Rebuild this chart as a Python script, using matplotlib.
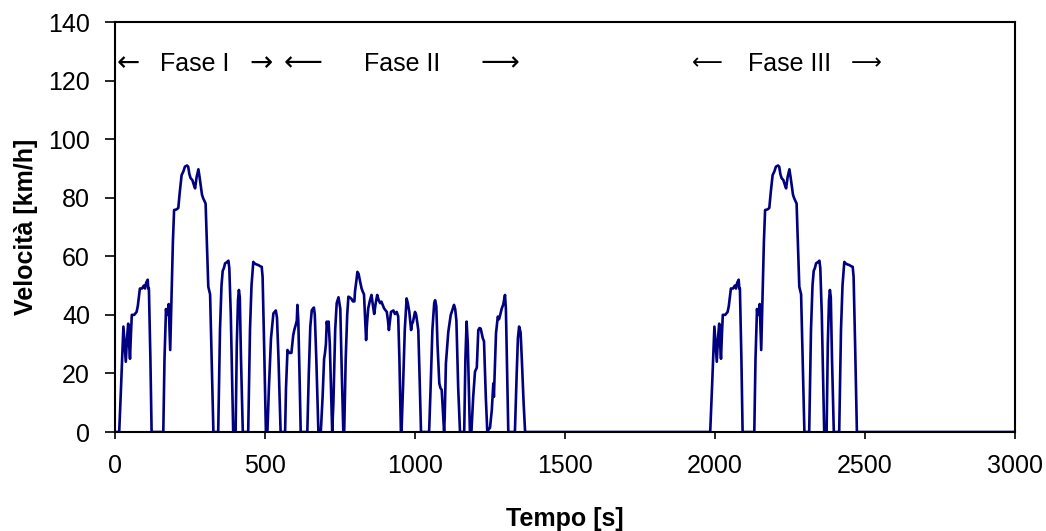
# -*- coding: utf-8 -*-
import matplotlib
matplotlib.use("Agg")
import matplotlib.pyplot as plt

# ---- dati (tempo [s], velocità [km/h]) ----
t_fase1 = [0, 14, 20, 28, 32, 36, 40, 44, 47, 50, 53, 56, 64, 72, 76, 83, 90, 96, 100, 104, 109, 111, 113, 118, 122,
           161, 165, 170, 172, 175, 179, 184, 188, 193, 197, 205, 211, 216, 222, 228, 233, 240, 244, 248, 252, 258,
           264, 267, 272, 278, 282, 286, 290, 294, 302, 306, 311, 317, 322, 328,
           344, 350, 355, 359, 363, 367, 373, 378, 381, 386, 394,
           402, 406, 410, 413, 416, 420, 426,
           444, 450, 455, 461, 466, 472, 478, 484, 489, 492, 497, 503]
v_fase1 = [0, 0, 15, 36, 30, 24, 32, 37, 30, 25, 33, 40, 40, 41, 43, 49, 49, 50, 49, 51, 52, 49, 49, 25, 0,
           0, 25, 42, 40, 40, 43.7, 28, 45, 65, 75.8, 76, 76.5, 82, 87.7, 89, 90.6, 91, 90.6, 88, 86.7, 86,
           84, 83.2, 87, 89.7, 87, 84, 81, 79.8, 78, 65, 49.6, 47, 25, 0,
           0, 35, 50, 55, 56, 57.6, 58, 58.5, 56, 40, 0,
           0, 30, 45, 48.5, 46, 25, 0,
           0, 35, 50, 58.1, 57.5, 57.2, 57, 56.6, 56.4, 53, 30, 0]

t_fase2 = [508, 513, 520, 528, 532, 536, 540, 545, 552,
           567, 570, 575, 581, 588, 594, 598, 602, 606, 608, 611, 615, 619,
           641, 646, 651, 656, 663, 666, 671, 678,
           686, 692, 697, 700, 703, 706, 709, 712, 716, 720, 724,
           728, 734, 739, 745, 751, 756, 761,
           764, 769, 774, 778, 782, 788, 793, 798, 800, 805, 808, 812, 817, 822, 826, 830, 833, 837, 840,
           844, 850, 855, 860, 864, 869, 874, 879, 884, 888, 892, 897, 906, 910, 913, 920, 928, 933, 939,
           944, 948, 953,
           955, 960, 966, 972, 976, 981, 987, 990, 993, 1000, 1004, 1011, 1015, 1020,
           1047, 1052, 1058, 1064, 1067, 1071, 1075, 1081, 1085, 1089, 1093, 1097,
           1099, 1103, 1111, 1115, 1119, 1124, 1130, 1134, 1138, 1144, 1150,
           1164, 1168, 1172, 1176, 1183,
           1188, 1194, 1200, 1206, 1211, 1215, 1219, 1223, 1226, 1230, 1236, 1241, 1246, 1250, 1256, 1261,
           1263, 1270, 1276, 1280, 1284, 1289, 1294, 1300, 1303, 1307, 1311,
           1333, 1339, 1343, 1347, 1352, 1356, 1362, 1367]
v_fase2 = [0, 15, 32, 40.5, 41, 41.5, 39, 25, 0,
           0, 15, 28, 27, 27, 33, 35, 36.4, 38, 43.4, 38, 20, 0,
           0, 20, 36, 41.6, 42.5, 40, 25, 0,
           0, 12, 25, 27, 30, 37.7, 35, 37.7, 30, 15, 0,
           10, 35, 44, 46, 42, 20, 0,
           0, 25, 40, 46.2, 46, 45.5, 44.6, 44.6, 48, 52, 54.7, 54, 51.4, 49, 47.9, 47, 40, 31.4, 37,
           42.2, 45, 46.8, 43, 40.3, 44, 46.8, 45, 44, 44.5, 43.5, 42.2, 41, 38, 34.8, 41, 41.5, 40.3, 41,
           39.5, 25, 0,
           0, 15, 35, 45.6, 44, 41, 34.8, 37, 37.5, 41, 40, 34.8, 20, 0,
           0, 15, 35, 44, 45, 43, 30, 16.6, 15, 14.4, 7, 0,
           5, 23.4, 34.2, 37, 39.9, 41.5, 43.4, 42, 38, 15, 0,
           0, 25, 37.7, 30, 0,
           0, 12, 20.6, 22, 34.8, 35.5, 35.3, 33.5, 32, 31, 12, 0, 1, 1.4, 7.5, 16.6,
           12, 33.7, 39.4, 38.5, 40, 42.1, 43.5, 46.8, 42, 20, 0,
           0, 20, 32, 36, 34, 25, 10, 0]

t_fase3 = [1984, 1990, 1998, 2002, 2006, 2010, 2014, 2017, 2020, 2023, 2026, 2034, 2042, 2046, 2053, 2060, 2066,
           2070, 2074, 2079, 2081, 2083, 2088, 2092,
           2131, 2135, 2140, 2142, 2145, 2149, 2154, 2158, 2163, 2167, 2175, 2181, 2186, 2192, 2198, 2203, 2210,
           2214, 2218, 2222, 2228, 2234, 2237, 2242, 2248, 2252, 2256, 2260, 2264, 2272, 2276, 2281, 2287, 2292, 2298,
           2314, 2320, 2325, 2329, 2333, 2337, 2343, 2348, 2351, 2356, 2364,
           2372, 2376, 2380, 2383, 2386, 2390, 2396,
           2414, 2420, 2425, 2431, 2436, 2442, 2448, 2454, 2459, 2462, 2467, 2473, 3000]
v_fase3 = [0, 15, 36, 30, 24, 32, 37, 30, 25, 33, 40, 40, 41, 43, 49, 49, 50,
           49, 51, 52, 49, 49, 25, 0,
           0, 25, 42, 40, 40, 43.7, 28, 45, 65, 75.8, 76, 76.5, 82, 87.7, 89, 90.6, 91,
           90.6, 88, 86.7, 86, 84, 83.2, 87, 89.7, 87, 84, 81, 79.8, 78, 65, 49.6, 47, 25, 0,
           0, 35, 50, 55, 56, 57.6, 58, 58.5, 56, 40, 0,
           0, 30, 45, 48.5, 46, 25, 0,
           0, 35, 50, 58.1, 57.5, 57.2, 57, 56.6, 56.4, 53, 30, 0, 0]

# etichette delle fasi: (testo, tempo centrale)
fasi_label = [("Fase I", 266), ("Fase II", 956), ("Fase III", 2250)]
# frecce: (carattere, tempo centrale, dimensione)
frecce = [("\u2190", 45, 20), ("\u2192", 486, 20),
          ("\u27f5", 628, 19.5), ("\u27f6", 1283, 19.5),
          ("\u27f5", 1974, 15.5), ("\u27f6", 2503, 15.5)]

plt.rcParams["font.family"] = ["Liberation Sans", "DejaVu Sans"]

tempo = t_fase1 + t_fase2 + t_fase3
velocita = v_fase1 + v_fase2 + v_fase3

fig = plt.figure(figsize=(10.46, 5.31), dpi=100)
ax = fig.add_axes([115 / 1046, 1 - 432 / 531, 900 / 1046, 410 / 531])

ax.plot(tempo, velocita, color="#000080", linewidth=1.9)

ax.set_xlim(0, 3000)
ax.set_ylim(0, 140)
ax.set_xticks(range(0, 3001, 500))
ax.set_yticks(range(0, 141, 20))
ax.tick_params(axis="x", direction="out", length=5, width=1.2, labelsize=18, pad=11)
ax.tick_params(axis="y", direction="out", length=7, width=1.2, labelsize=18, pad=11)
for sp in ax.spines.values():
    sp.set_linewidth(1.5)

ax.set_xlabel("Tempo [s]", fontsize=18, fontweight="bold")
ax.set_ylabel("Velocità [km/h]", fontsize=18, fontweight="bold")
ax.xaxis.set_label_coords(0.5, -0.183)
ax.yaxis.set_label_coords(-0.086, 0.5)

for txt, tx in fasi_label:
    ax.text(tx, 123.4, txt, ha="center", va="baseline", fontsize=18)
for txt, tx, size in frecce:
    ax.text(tx, 126.0, txt, ha="center", va="center", fontsize=size,
            family=["DejaVu Sans"])

fig.savefig("out.png", dpi=100)
